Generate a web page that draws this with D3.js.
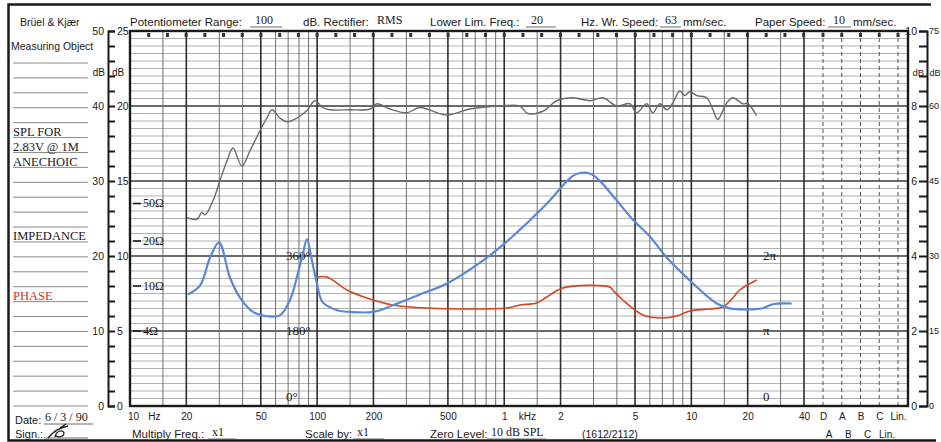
<!DOCTYPE html>
<html><head><meta charset="utf-8">
<script src="https://cdn.jsdelivr.net/npm/d3@7/dist/d3.min.js"></script>
<style>
body{margin:0;background:#fff}
svg{display:block}
.sans{font-family:"Liberation Sans",Arial,sans-serif}
.serif{font-family:"Liberation Serif","Times New Roman",serif}
</style>
</head><body>
<svg id="c" width="941" height="442"></svg>
<script>
// ---------- DATA ----------
// SPL curve (left outer scale, 0-50 dB chart units)
const splFreq = [20.2,22.8,24.2,25.2,27.8,30.3,33.0,35.5,39.6,43.7,49.5,53.9,57.4,63.2,69.0,78.0,88.2,97.3,107,117,150,192,209,245,302,354,494,655,947,1211,1336,1607,1909,2323,2864,3365,3993,4687,5107,5775,6223,6778,7390,7960,8674,9220,9800,10680,12080,13000,13830,15450,16630,18820,20000,22350];
const splLevel = [25.1,24.9,25.8,25.5,27.4,30.1,32.7,34.4,32.0,34.0,36.7,38.4,39.5,38.4,37.9,38.4,39.4,40.7,39.8,39.5,39.5,39.6,40.3,39.6,39.1,39.8,38.8,39.6,40.0,40.0,39.0,39.3,40.7,41.1,40.7,41.1,40.0,40.3,39.1,40.3,39.1,40.3,39.5,40.4,42.0,41.4,41.9,41.4,41.1,39.6,38.2,40.4,41.1,40.3,40.3,38.7];
// Impedance curve (ohms)
const impFreq = [20.4,23.7,26.8,29.9,34.2,38.7,45.4,54.6,63.3,71.6,79.0,84.0,88.2,93.8,99.8,107,128,150,199,254,354,494,769,1007,1168,1370,1752,2056,2297,2474,2867,3242,3995,4864,5996,7389,9806,13670,16040,19290,24070,27220,34390];
const impOhm  = [8.4,10.1,15.5,19.6,11.4,7.9,5.9,5.4,5.5,7.5,12.2,16.5,20.8,14.8,10.4,7.2,6.1,5.9,5.9,6.75,8.4,10.4,14.8,19.3,24.6,33.0,53.7,77.4,96.6,104,104,87,53.7,33.8,22.4,15.5,10.9,7.0,6.35,6.2,6.35,6.9,7.0];
// Phase curve (degrees)
const phaseFreq = [99.8,112.8,144.3,184.6,254,386,1033,1212,1493,1689,2056,3666,3802,4300,5501,7036,8356,9806,12540,14720,16650,18140,22360];
const phaseDeg  = [309.6,309.6,278.4,259.2,242.4,235.2,235.2,242.4,247.2,261.6,283.2,285.6,278.4,254.4,218.4,211.2,216,228,232.8,237.6,259.2,278.4,302.4];

// ---------- TICKS / LABELS ----------
const freqTickValues = [10,20,50,100,200,500,1000,2000,5000,10000,20000,40000];
const freqTickLabels = ["10","20","50","100","200","500","1","2","5","10","20","40"];
const weightingLabels = ["D","A","B","C","Lin."];
const weightingLabels2 = ["A","B","C","Lin."];
const leftOuterTicks = [0,10,20,30,40,50];
const leftInnerLabels = ["0","5","10","15","20","25"];
const rightOuterTicks = [0,2,4,6,8,10];
const rightInnerLabels = ["0","15","30","45","60","75"];
const impTicks = [4,10,20,50];
const impLabels = ["4Ω","10Ω","20Ω","50Ω"];
const phaseTicks = [0,180,360];
const phaseLabels = ["0°","180°","360°"];
const phaseRadLabels = ["0","π","2π"];
const panelLabels = ["SPL FOR","2.83V @ 1M","ANECHOIC"];

// ---------- SCALES ----------
const svg = d3.select("#c");
const x = d3.scaleLog().domain([10,40000]).range([130,804]);
const wx = d3.scalePoint().domain(weightingLabels).range([823,898]);
const wx2 = d3.scalePoint().domain(weightingLabels2).range([829,887]);
const y = d3.scaleLinear().domain([0,50]).range([406,31]);
const yR = d3.scaleLinear().domain([0,10]).range([406,31]);
const impUnit = d3.scaleLinear().domain(impTicks.map(Math.log10)).range([10,16,22,27]);
const yImp = z => y(impUnit(Math.log10(z)));
const phaseUnit = d3.scaleLinear().domain([0,360]).range([0,20]);
const yPh = d => y(phaseUnit(d));
const PL = 130, PR = 908, PT = 31, PB = 406;

// ---------- PAGE FRAME ----------
const ink = "#1a1a1a";
svg.append("path").attr("d","M931,4.5H8.5V440.5H936").attr("fill","none").attr("stroke",ink).attr("stroke-width",2.5);

function txt(t,xx,yy,cls,size,opts={}){
  const e = svg.append("text").attr("x",xx).attr("y",yy).attr("class",cls)
    .attr("font-size",size).attr("fill",opts.fill||ink).text(t);
  if(opts.anchor) e.attr("text-anchor",opts.anchor);
  if(opts.db) e.attr("dominant-baseline",opts.db);
  return e;
}
function uline(x1,x2,yy){svg.append("line").attr("x1",x1).attr("x2",x2).attr("y1",yy).attr("y2",yy).attr("stroke","#444").attr("stroke-width",0.8);}
txt("Brüel & Kjær",20,26,"sans",10.5);
txt("Measuring Object",11,50,"sans",10.5);
txt("Potentiometer Range:",130,26,"sans",11.5);
txt("100",255,24,"serif",12); uline(250,282,27);
txt("dB. Rectifier:",303,26,"sans",11.5);
txt("RMS",377,24,"serif",12);
txt("Lower Lim. Freq.:",430,26,"sans",11.5);
txt("20",531,24,"serif",12); uline(526,556,27);
txt("Hz. Wr. Speed:",581,26,"sans",11.5);
txt("63",665,24,"serif",12); uline(660,681,27);
txt("mm/sec.",683,26,"sans",11.5);
txt("Paper Speed:",755,26,"sans",11.5);
txt("10",833,24,"serif",12); uline(828,851,27);
txt("mm/sec.",853,26,"sans",11.5);

// left panel rules
d3.range(0,24).forEach(i=>{
  const yy = 63 + i*(343/23);
  svg.append("line").attr("x1",13).attr("x2",88).attr("y1",yy).attr("y2",yy).attr("stroke","#8a8a8a").attr("stroke-width",1);
});
panelLabels.forEach((t,i)=>txt(t,13,136+i*15,"serif",12.5));
txt("IMPEDANCE",13,240,"serif",12.5);
txt("PHASE",13,300,"serif",12.5,{fill:"#c8352b"});
txt("Date:",15,424,"sans",11);
txt("6 / 3 / 90",45,421,"serif",12); uline(44,93,424);
txt("Sign.:",15,438,"sans",11);
uline(44,88,438);
svg.append("path").attr("d","M48,438 C52,433 58,428 68,426 M55,437 C56,431 63,429 64,433 C64,437 58,438 55,435 M60,428 L66,424")
  .attr("fill","none").attr("stroke","#222").attr("stroke-width",1.3);

// ---------- GRID ----------
const g = svg.append("g");
d3.range(1,50).forEach(u=>{
  const bold = u%10===0;
  g.append("line").attr("x1",PL).attr("x2",PR).attr("y1",y(u)).attr("y2",y(u))
   .attr("stroke",bold?"#3a3a3a":"#a8a8a8").attr("stroke-width",bold?1.6:0.9);
});
const mult = [1,1.5,2,3,4,5,6,7,8,9];
let vlines = [];
[10,100,1000].forEach(d=>mult.forEach(m=>vlines.push(m*d)));
vlines = vlines.concat([10000,15000,20000,30000,40000]).filter(f=>f>10);
vlines.forEach(f=>{
  const m = f/Math.pow(10,Math.floor(Math.log10(f)+1e-9));
  const bold = (Math.abs(m-1)<1e-6||Math.abs(m-2)<1e-6||Math.abs(m-5)<1e-6||f===40000);
  g.append("line").attr("x1",x(f)).attr("x2",x(f)).attr("y1",PT).attr("y2",PB)
   .attr("stroke",bold?"#2e2e2e":"#6e6e6e").attr("stroke-width",bold?1.6:1);
});
weightingLabels.forEach(w=>{
  g.append("line").attr("x1",wx(w)).attr("x2",wx(w)).attr("y1",PT).attr("y2",PB)
   .attr("stroke","#555").attr("stroke-width",1).attr("stroke-dasharray","4,3");
});
const marks = d3.range(1,37).map(k=>x(Math.pow(10,1+k/10))).concat(weightingLabels.map(w=>wx(w)));
marks.forEach(mx=>{
  g.append("rect").attr("x",mx-1.5).attr("y",PT+2).attr("width",3).attr("height",4).attr("fill","#333");
});
g.append("rect").attr("x",PL).attr("y",PT).attr("width",PR-PL).attr("height",PB-PT)
 .attr("fill","none").attr("stroke",ink).attr("stroke-width",2.4);

// ---------- LEFT AXIS ----------
const la = svg.append("g").attr("transform","translate(108,0)")
  .call(d3.axisRight(y).tickValues(d3.range(0,51,2)).tickSizeInner(7).tickSizeOuter(7).tickFormat(""));
la.selectAll("path,line").attr("stroke",ink).attr("stroke-width",2);
const la2 = svg.append("g").attr("transform","translate(106,0)")
  .call(d3.axisLeft(y).tickValues(leftOuterTicks).tickSize(0).tickPadding(2));
la2.select(".domain").remove();
la2.selectAll("text").attr("font-size",10.5).attr("font-family","Liberation Sans, Arial, sans-serif").attr("fill",ink);
const la3 = svg.append("g").attr("transform","translate(108,0)")
  .call(d3.axisRight(y).tickValues(leftOuterTicks).tickSize(0).tickPadding(9).tickFormat((d,i)=>leftInnerLabels[i]));
la3.select(".domain").remove();
la3.selectAll("text").attr("font-size",10.5).attr("font-family","Liberation Sans, Arial, sans-serif").attr("fill",ink);
txt("dB",105,76,"sans",10,{anchor:"end"});
txt("dB",112,76,"sans",10);

// ---------- RIGHT AXIS ----------
const ra = svg.append("g").attr("transform","translate(927,0)")
  .call(d3.axisLeft(yR).tickValues(d3.range(0,10.01,0.4)).tickSizeInner(8).tickSizeOuter(8).tickFormat(""));
ra.selectAll("path,line").attr("stroke",ink).attr("stroke-width",2);
const ra2 = svg.append("g").attr("transform","translate(927,0)")
  .call(d3.axisLeft(yR).tickValues(rightOuterTicks).tickSize(0).tickPadding(10));
ra2.select(".domain").remove();
ra2.selectAll("text").attr("font-size",10.5).attr("font-family","Liberation Sans, Arial, sans-serif").attr("fill",ink);
const ra3 = svg.append("g").attr("transform","translate(927,0)")
  .call(d3.axisRight(yR).tickValues(rightOuterTicks).tickSize(0).tickPadding(2).tickFormat((d,i)=>rightInnerLabels[i]));
ra3.select(".domain").remove();
ra3.selectAll("text").attr("font-size",9).attr("font-family","Liberation Sans, Arial, sans-serif").attr("fill",ink);
txt("dB",924,76,"sans",9.5,{anchor:"end"});
txt("dB",929.5,76,"sans",9);

// ---------- BOTTOM AXIS ----------
const ba = svg.append("g").attr("transform",`translate(0,${PB})`)
  .call(d3.axisBottom(x).tickValues(freqTickValues).tickSize(0).tickPadding(7).tickFormat((d,i)=>freqTickLabels[i]));
ba.select(".domain").remove();
ba.selectAll("text").attr("font-size",10).attr("font-family","Liberation Sans, Arial, sans-serif").attr("fill",ink);
ba.selectAll(".tick").filter(d=>d===10).select("text").attr("dx",3);
const bw = svg.append("g").attr("transform",`translate(0,${PB})`)
  .call(d3.axisBottom(wx).tickSize(0).tickPadding(7));
bw.select(".domain").remove();
bw.selectAll("text").attr("font-size",10).attr("font-family","Liberation Sans, Arial, sans-serif").attr("fill",ink);
txt("Hz",x(13.5),420,"sans",10,{anchor:"middle"});
txt("kHz",x(1330),420,"sans",10,{anchor:"middle"});

txt("Multiply Freq.:",132,438,"sans",11.5);
txt("x1",212,436,"serif",12); uline(208,236,439);
txt("Scale by:",305,438,"sans",11.5);
txt("x1",357,436,"serif",12); uline(353,384,439);
txt("Zero Level:",430,438,"sans",11.5);
txt("10 dB SPL",491,436,"serif",12); uline(487,546,439);
txt("(1612/2112)",582,438,"sans",10.5);
weightingLabels2.forEach(w=>txt(w,wx2(w),438,"sans",10,{anchor:"middle"}));

// ---------- IN-PLOT SCALE LABELS ----------
impTicks.forEach((z,i)=>{
  svg.append("line").attr("x1",133).attr("x2",141).attr("y1",yImp(z)).attr("y2",yImp(z)).attr("stroke",ink).attr("stroke-width",1.6);
  txt(impLabels[i],143,yImp(z)+1,"serif",12,{db:"middle"});
});
phaseTicks.forEach((p,i)=>{
  txt(phaseLabels[i],286,p===0?yPh(p)-8:yPh(p)+1,"serif",13,{db:"middle"});
  txt(phaseRadLabels[i],763,p===0?yPh(p)-8:yPh(p)+1,"serif",13,{db:"middle"});
});

// ---------- CURVES ----------
const curve = d3.curveCatmullRom.alpha(0.5);
const splData = splFreq.map((f,i)=>({f,v:splLevel[i]}));
const impData = impFreq.map((f,i)=>({f,v:impOhm[i]}));
const phData = phaseFreq.map((f,i)=>({f,v:phaseDeg[i]}));
svg.append("path").datum(splData)
  .attr("d",d3.line().x(d=>x(d.f)).y(d=>y(d.v)).curve(curve))
  .attr("fill","none").attr("stroke","#6b6b6b").attr("stroke-width",1.4);
svg.append("path").datum(phData)
  .attr("d",d3.line().x(d=>x(d.f)).y(d=>yPh(d.v)).curve(curve))
  .attr("fill","none").attr("stroke","#d4441f").attr("stroke-width",1.6);
svg.append("path").datum(impData)
  .attr("d",d3.line().x(d=>x(d.f)).y(d=>yImp(d.v)).curve(curve))
  .attr("fill","none").attr("stroke","#5b88d4").attr("stroke-width",2.2);
</script>
</body></html>
